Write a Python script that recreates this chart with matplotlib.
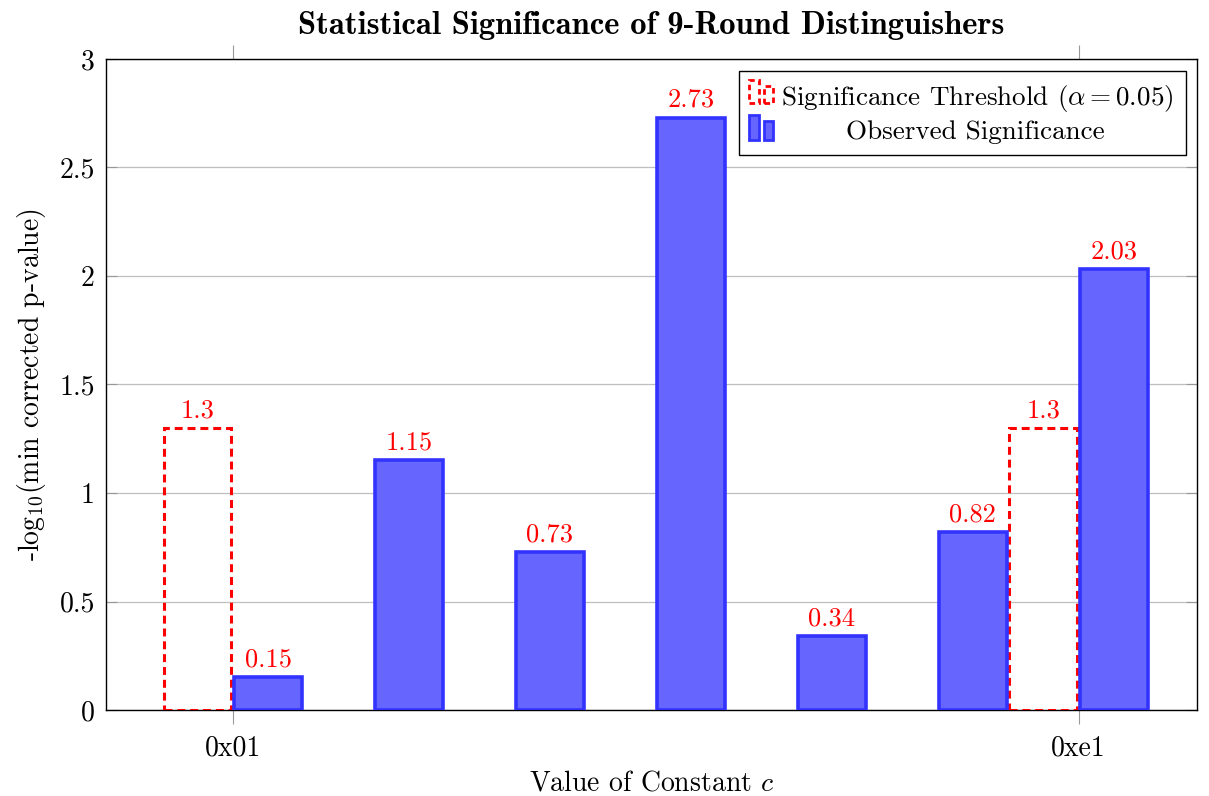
import numpy as np
import matplotlib.pyplot as plt
from matplotlib.patches import Rectangle

plt.rcParams['font.family'] = 'cmr10'
plt.rcParams['mathtext.fontset'] = 'cm'
plt.rcParams['axes.formatter.use_mathtext'] = True

# Données
observed = [0.15, 1.15, 0.73, 2.73, 0.34, 0.82, 2.03]
threshold_pos = [0, 6]
threshold = [1.3, 1.3]
tick_pos = [0, 6]
tick_labels = ['0x01', '0xe1']

x = np.arange(len(observed))
w = 0.48
off = 0.25
red = '#ff0000'
bfill = '#6666ff'
bedge = '#3333ff'
fs = 20

fig = plt.figure(figsize=(12.09, 7.96), dpi=100)
ax = fig.add_axes([0.0877, 0.108, 0.9023, 0.818])

# Barres
ax.bar(np.array(threshold_pos) - off, threshold, width=w, facecolor='none',
       edgecolor=red, linewidth=2.2, linestyle=(0, (2.6, 1.6)), zorder=3)
ax.bar(x + off, observed, width=w, facecolor=bfill, edgecolor=bedge,
       linewidth=2.6, zorder=3)

# Valeurs au-dessus des barres
for px, v in zip(threshold_pos, threshold):
    ax.annotate(f'{v:g}', (px - off, v), xytext=(0, 4), textcoords='offset points',
                ha='center', va='bottom', color=red, fontsize=fs - 1)
for px, v in zip(x, observed):
    ax.annotate(f'{v:g}', (px + off, v), xytext=(0, 4), textcoords='offset points',
                ha='center', va='bottom', color=red, fontsize=fs - 1)

ax.set_xlim(-0.90, 6.84)
ax.set_ylim(0, 3)
ax.set_xticks(tick_pos)
ax.set_xticklabels(tick_labels)
ax.set_yticks([0, 0.5, 1, 1.5, 2, 2.5, 3])
ax.set_yticklabels(['0', '0.5', '1', '1.5', '2', '2.5', '3'])
ax.tick_params(axis='x', direction='out', length=10, color='#999999',
               labelsize=fs, top=True, pad=8)
ax.tick_params(axis='y', direction='in', length=8, color='#999999',
               labelsize=fs, right=True, pad=8)
ax.grid(axis='y', color='#bfbfbf', linewidth=0.9, zorder=0)
ax.set_axisbelow(True)
for s in ax.spines.values():
    s.set_linewidth(1.0)

ax.set_xlabel('Value of Constant $c$', fontsize=fs, labelpad=6)
ax.set_ylabel(r'-log$_{10}$(min corrected p-value)', fontsize=fs, labelpad=8)
ax.set_title('Statistical Significance of 9-Round Distinguishers',
             fontsize=23.5, fontfamily='cmb10', pad=18)


# Légende dessinée à la main (style pgfplots)
def fx(px):
    return (px - 106) / 1091


def fy(py):
    return (710 - py) / 651


def box(x0, x1, y0, y1, **kw):
    ax.add_patch(Rectangle((fx(x0), fy(y1)), fx(x1) - fx(x0), fy(y0) - fy(y1),
                           transform=ax.transAxes, clip_on=False, zorder=6, **kw))


box(739, 1186, 71, 155, facecolor='white', edgecolor='black', linewidth=1.0)
red_kw = dict(facecolor='none', edgecolor=red, linewidth=2.0, linestyle=(0, (2, 1.4)))
blue_kw = dict(facecolor=bfill, edgecolor=bedge, linewidth=2.0)
box(749, 759, 80, 103, **red_kw)
box(764, 773, 86, 103, **red_kw)
box(749, 759, 115, 140, **blue_kw)
box(764, 773, 121, 140, **blue_kw)
ax.text(fx(781), fy(105), r'Significance Threshold ($\alpha = 0.05$)', transform=ax.transAxes,
        ha='left', va='baseline', fontsize=19.5, zorder=7)
ax.text(fx(975), fy(139), 'Observed Significance', transform=ax.transAxes,
        ha='center', va='baseline', fontsize=19.5, zorder=7)

fig.savefig('out.png', dpi=100)
